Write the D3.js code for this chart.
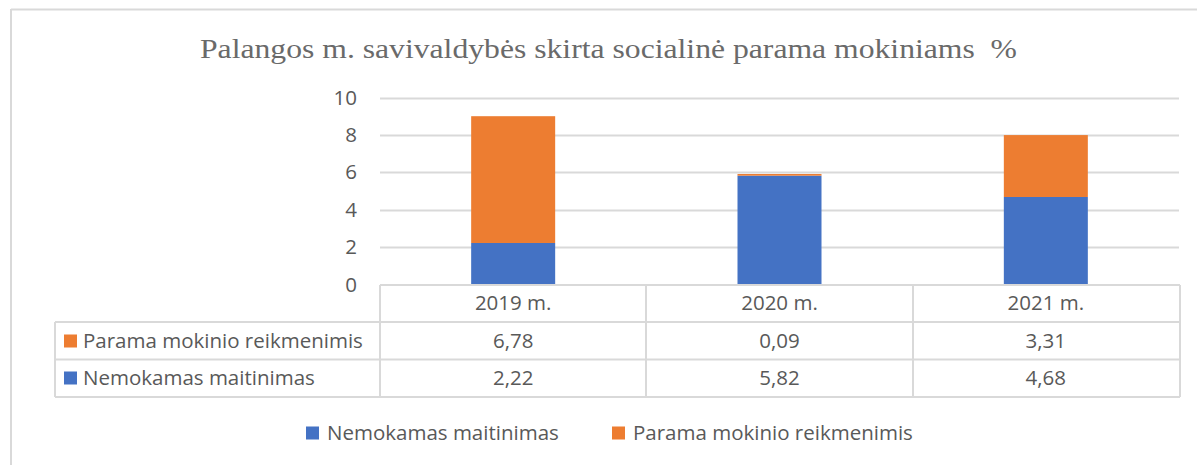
<!DOCTYPE html>
<html>
<head>
<meta charset="utf-8">
<script src="https://cdn.jsdelivr.net/npm/d3@7"></script>
<style>
  body { margin: 0; background: #fff; }
  text { font-family: "Open Sans", sans-serif; }
</style>
</head>
<body>
<div id="chart"></div>
<script>
// data
const years = ["2019 m.", "2020 m.", "2021 m."];
const maitinimas = [2.22, 5.82, 4.68];   // Nemokamas maitinimas
const reikmenys = [6.78, 0.09, 3.31];    // Parama mokinio reikmenimis
const yTicks = [0, 2, 4, 6, 8, 10];
const seriesNames = ["Nemokamas maitinimas", "Parama mokinio reikmenimis"];
const colors = ["#4472C4", "#ED7D31"];

const W = 1197, H = 465;
const grid = "#d9d9d9", txt = "#595959";
const fs = "20.5px";

const svg = d3.select("#chart").append("svg")
  .attr("width", W).attr("height", H);

// chart frame (only top + left visible)
svg.append("line").attr("x1", 11).attr("x2", W).attr("y1", 9.5).attr("y2", 9.5)
  .attr("stroke", grid).attr("stroke-width", 2);
svg.append("line").attr("x1", 11).attr("x2", 11).attr("y1", 9).attr("y2", H)
  .attr("stroke", grid).attr("stroke-width", 2);

// title
svg.append("text")
  .attr("x", 200).attr("y", 58)
  .attr("textLength", 817).attr("lengthAdjust", "spacingAndGlyphs")
  .style("font-family", "'Liberation Serif', serif")
  .style("font-size", "27px")
  .style("white-space", "pre")
  .attr("fill", "#6a6a6a")
  .text("Palangos m. savivaldybės skirta socialinė parama mokiniams  %");

const x = d3.scaleBand().domain(years).range([380, 1179]).paddingInner(0).paddingOuter(0);
const y = d3.scaleLinear().domain([0, 10]).range([284.5, 97.5]);
const barW = 84;

// gridlines
svg.append("g").selectAll("line").data(yTicks.filter(d => d > 0)).join("line")
  .attr("x1", 380).attr("x2", 1179)
  .attr("y1", d => Math.round(y(d)) + 0.5).attr("y2", d => Math.round(y(d)) + 0.5)
  .attr("stroke", grid).attr("stroke-width", 2);

// y axis labels
const yAxis = d3.axisLeft(y).tickValues(yTicks).tickSize(0).tickPadding(0);
const ya = svg.append("g").attr("transform", "translate(357,0)").call(yAxis);
ya.select(".domain").remove();
ya.selectAll("text").style("font-size", fs).style("font-family", "'Open Sans', sans-serif")
  .attr("fill", txt);

// stacked bars
const rows = years.map((yr, i) => ({ year: yr, m: maitinimas[i], r: reikmenys[i] }));
const stack = d3.stack().keys(["m", "r"])(rows);
svg.append("g").selectAll("g").data(stack).join("g")
  .attr("fill", (d, i) => colors[i])
  .selectAll("rect").data(d => d).join("rect")
    .attr("x", d => x(d.data.year) + x.bandwidth() / 2 - barW / 2)
    .attr("width", barW)
    .attr("y", d => y(d[1]))
    .attr("height", d => y(d[0]) - y(d[1]));

// data table
const rowTop = [285, 322, 359.5, 397];
const tbl = svg.append("g").attr("stroke", grid).attr("stroke-width", 2).attr("fill", "none");
tbl.append("line").attr("x1", 380).attr("x2", 1180).attr("y1", rowTop[0]).attr("y2", rowTop[0]);
[1, 2, 3].forEach(k => {
  tbl.append("line").attr("x1", 55).attr("x2", 1180).attr("y1", rowTop[k]).attr("y2", rowTop[k]);
});
tbl.append("line").attr("x1", 55).attr("x2", 55).attr("y1", rowTop[1]).attr("y2", rowTop[3]);
[380, 646, 913, 1180].forEach(xx => {
  tbl.append("line").attr("x1", xx).attr("x2", xx).attr("y1", rowTop[0]).attr("y2", rowTop[3]);
});

const fmt = v => v.toFixed(2).replace(".", ",");
// header
svg.append("g").selectAll("text").data(years).join("text")
  .attr("x", d => x(d) + x.bandwidth() / 2).attr("y", 310)
  .attr("text-anchor", "middle").style("font-size", fs).attr("fill", txt)
  .text(d => d);

const tableRows = [
  { name: seriesNames[1], color: colors[1], vals: reikmenys, cy: 341 },
  { name: seriesNames[0], color: colors[0], vals: maitinimas, cy: 378 }
];
tableRows.forEach(tr => {
  svg.append("rect").attr("x", 64).attr("y", tr.cy - 6.5).attr("width", 13).attr("height", 13)
    .attr("fill", tr.color);
  svg.append("text").attr("x", 83).attr("y", tr.cy + 7)
    .style("font-size", fs).attr("fill", txt).text(tr.name);
  svg.append("g").selectAll("text").data(tr.vals).join("text")
    .attr("x", (d, i) => x(years[i]) + x.bandwidth() / 2).attr("y", tr.cy + 7)
    .attr("text-anchor", "middle").style("font-size", fs).attr("fill", txt)
    .text(d => fmt(d));
});

// legend
const legX = [306, 612];
const leg = svg.append("g").selectAll("g").data(seriesNames).join("g")
  .attr("transform", (d, i) => `translate(${legX[i]},433)`);
leg.append("rect").attr("x", 0).attr("y", -6.5).attr("width", 13).attr("height", 13)
  .attr("fill", (d, i) => colors[i]);
leg.append("text").attr("x", 21).attr("y", 7)
  .style("font-size", fs).attr("fill", txt).text(d => d);
</script>
</body>
</html>
